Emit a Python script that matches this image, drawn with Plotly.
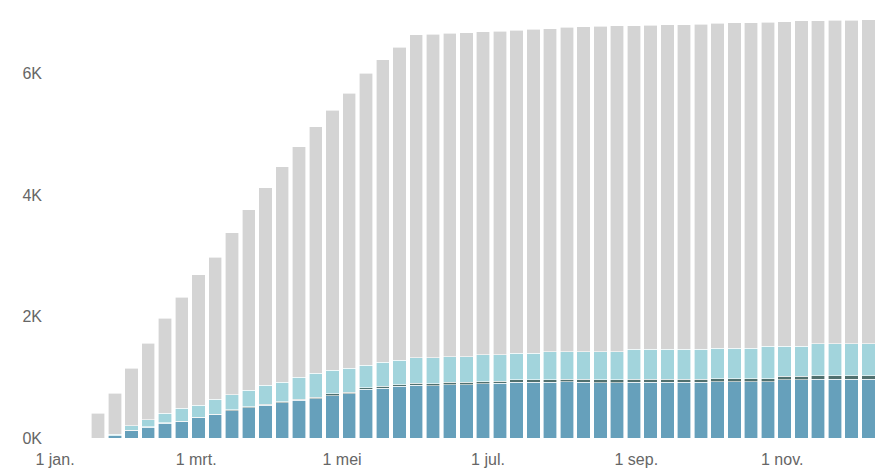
import plotly.graph_objects as go
import pandas as pd
import numpy as np

# Week centres (Wednesday of each Mon-Fri block), 2022
week_start = "2022-01-19"
n_weeks = 47
weeks = pd.date_range(week_start, periods=n_weeks, freq="7D")

# Read-off cumulative levels per week
blue_top = [0, 40, 120, 180, 240, 270, 330, 380, 450, 500, 540, 580, 620, 650,
            700, 730, 800, 820, 850, 870, 860, 880, 880, 890, 900, 920, 920, 920,
            930, 920, 910, 910, 920, 920, 920, 920, 920, 925, 925, 925, 930, 960,
            960, 970, 970, 970, 970]
band = [0, 0, 5, 5, 10, 10, 10, 15, 15, 15, 20, 20, 20, 25,
        25, 25, 30, 30, 30, 30, 35, 35, 35, 35, 35, 40, 40, 40,
        40, 45, 50, 50, 50, 50, 50, 50, 50, 50, 50, 50, 50, 55,
        55, 55, 55, 55, 55]
teal_top = [0, 60, 200, 300, 410, 490, 540, 640, 710, 790, 870, 920, 1000, 1070,
            1120, 1150, 1200, 1250, 1285, 1320, 1320, 1335, 1335, 1370, 1370, 1400, 1400, 1420,
            1420, 1420, 1420, 1420, 1465, 1465, 1465, 1465, 1465, 1480, 1480, 1480, 1515, 1515,
            1515, 1550, 1550, 1550, 1550]
total = [410, 740, 1150, 1560, 1970, 2320, 2690, 2980, 3380, 3760, 4120, 4470, 4800, 5130,
         5400, 5680, 6010, 6230, 6440, 6640, 6650, 6670, 6680, 6690, 6700, 6720, 6730, 6740,
         6770, 6775, 6780, 6790, 6795, 6800, 6805, 6810, 6820, 6830, 6840, 6845, 6850, 6860,
         6870, 6875, 6880, 6885, 6890]

tick_vals = ["2022-01-01", "2022-03-01", "2022-05-01", "2022-07-01", "2022-09-01", "2022-11-01"]
tick_text = ["1 jan.", "1 mrt.", "1 mei", "1 jul.", "1 sep.", "1 nov."]
y_ticks = [0, 2000, 4000, 6000]
y_text = ["0K", "2K", "4K", "6K"]

blue_v = np.array(blue_top, dtype=float)
band_v = np.array(band, dtype=float)
teal_v = np.array(teal_top, dtype=float) - blue_v - band_v
teal_v = np.clip(teal_v, 0, None)
grey_v = np.array(total, dtype=float) - np.array(teal_top, dtype=float)

bar_w = 5.6 * 86400000

fig = go.Figure()
series = [
    ("blauw", blue_v, "#66a0bb"),
    ("band", band_v, "#50706f"),
    ("turkoois", teal_v, "#a2d4dc"),
    ("grijs", grey_v, "#d4d4d4"),
]
for name, vals, col in series:
    fig.add_trace(go.Bar(
        x=weeks, y=vals, name=name, width=bar_w,
        marker=dict(color=col, line=dict(color="white", width=0.6)),
        showlegend=False, hoverinfo="skip",
    ))

fig.update_layout(
    width=876, height=469,
    margin=dict(l=55, r=0, t=10, b=31),
    barmode="stack",
    plot_bgcolor="white", paper_bgcolor="white",
    font=dict(family="Liberation Sans, Arial, sans-serif", size=16, color="#666666"),
    xaxis=dict(
        type="date",
        range=["2022-01-01", "2022-12-10 05:00"],
        tickvals=tick_vals, ticktext=tick_text,
        showgrid=False, showline=False, zeroline=False, ticks="",
        ticklabelstandoff=10,
    ),
    yaxis=dict(
        range=[0, 7051],
        tickvals=y_ticks, ticktext=y_text,
        showgrid=False, showline=False, zeroline=False, ticks="",
        ticklabelstandoff=12,
    ),
)

fig.write_html("out.html", config={"displayModeBar": False},
               post_script="document.body.style.margin='0';")
